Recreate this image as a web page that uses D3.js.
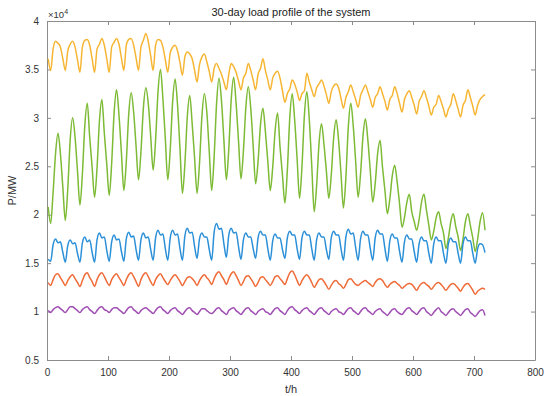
<!DOCTYPE html>
<html>
<head>
<meta charset="utf-8">
<script src="https://cdn.jsdelivr.net/npm/d3@7"></script>
<style>
  body { margin: 0; background: #fff; }
  svg { display: block; font-family: "Liberation Sans", Arial, sans-serif; }
</style>
</head>
<body>
<figure id="load" style="margin:0"></figure>
<script>
// loads in units of 10^4 MW, sampled every 4 h (t = 2, 6, 10, ... 718)
// one row per day
const yellowLoad = [
  3.61,3.49,3.71,3.79,3.77,3.73, 3.61,3.49,3.69,3.76,3.79,3.73, 3.60,3.47,3.73,3.80,3.81,3.75,
  3.61,3.47,3.71,3.76,3.82,3.75, 3.61,3.47,3.73,3.78,3.82,3.76, 3.62,3.49,3.75,3.81,3.82,3.75,
  3.62,3.49,3.73,3.80,3.87,3.79, 3.64,3.49,3.75,3.81,3.80,3.73, 3.60,3.47,3.67,3.73,3.75,3.69,
  3.57,3.44,3.63,3.68,3.66,3.61, 3.49,3.37,3.55,3.63,3.66,3.58, 3.48,3.37,3.51,3.56,3.51,3.45,
  3.37,3.29,3.45,3.56,3.53,3.47, 3.38,3.29,3.41,3.46,3.56,3.49, 3.39,3.29,3.45,3.51,3.61,3.49,
  3.39,3.29,3.41,3.46,3.48,3.41, 3.28,3.16,3.25,3.30,3.39,3.35, 3.27,3.18,3.25,3.28,3.46,3.37,
  3.29,3.22,3.31,3.35,3.39,3.33, 3.24,3.15,3.27,3.33,3.35,3.31, 3.20,3.10,3.21,3.27,3.34,3.27,
  3.19,3.11,3.23,3.29,3.34,3.27, 3.19,3.11,3.21,3.25,3.32,3.25, 3.17,3.08,3.19,3.23,3.32,3.25,
  3.15,3.06,3.19,3.25,3.28,3.21, 3.13,3.04,3.17,3.22,3.28,3.21, 3.12,3.03,3.11,3.14,3.23,3.17,
  3.09,3.01,3.09,3.14,3.25,3.18, 3.09,3.01,3.13,3.18,3.29,3.21, 3.12,3.03,3.13,3.19,3.22,3.24
];
const greenLoad = [
  2.08,1.91,2.23,2.63,2.84,2.63, 2.28,1.94,2.26,2.77,3.00,2.80, 2.45,2.10,2.42,2.92,3.15,2.80,
  2.49,2.18,2.48,2.97,3.19,2.84, 2.52,2.20,2.53,3.05,3.29,3.03, 2.64,2.25,2.55,3.04,3.26,3.06,
  2.71,2.36,2.65,3.10,3.31,3.15, 2.81,2.46,2.77,3.27,3.50,3.20, 2.78,2.36,2.67,3.17,3.40,3.13,
  2.68,2.22,2.52,3.01,3.23,2.94, 2.58,2.22,2.53,3.02,3.25,3.06, 2.65,2.25,2.60,3.15,3.41,3.18,
  2.77,2.36,2.68,3.19,3.42,3.15, 2.76,2.37,2.66,3.11,3.32,3.10, 2.71,2.32,2.55,2.93,3.10,2.86,
  2.55,2.25,2.49,2.87,3.05,2.70, 2.41,2.12,2.46,3.00,3.25,2.98, 2.58,2.17,2.50,3.03,3.27,2.98,
  2.51,2.03,2.30,2.74,2.94,2.73, 2.45,2.17,2.41,2.80,2.98,2.77, 2.42,2.07,2.39,2.91,3.15,2.92,
  2.55,2.18,2.42,2.81,2.99,2.77, 2.45,2.13,2.32,2.63,2.77,2.49, 2.25,2.01,2.16,2.40,2.51,2.34,
  2.11,1.87,1.97,2.13,2.21,2.03, 1.93,1.84,1.95,2.13,2.21,2.05, 1.89,1.74,1.83,1.97,2.03,1.91,
  1.81,1.65,1.76,1.93,2.01,1.88, 1.77,1.63,1.75,1.93,2.01,1.89, 1.76,1.62,1.75,1.93,2.02,1.84
];
const blueLoad = [
  1.54,1.52,1.69,1.75,1.71,1.72, 1.61,1.51,1.68,1.74,1.70,1.71, 1.60,1.51,1.71,1.77,1.72,1.74,
  1.61,1.51,1.74,1.81,1.76,1.77, 1.63,1.52,1.72,1.79,1.74,1.75, 1.62,1.52,1.75,1.82,1.77,1.78,
  1.64,1.53,1.74,1.81,1.76,1.77, 1.64,1.53,1.76,1.84,1.79,1.80, 1.65,1.53,1.76,1.84,1.79,1.80,
  1.65,1.53,1.78,1.86,1.81,1.82, 1.67,1.55,1.75,1.81,1.77,1.77, 1.64,1.53,1.82,1.91,1.85,1.86,
  1.70,1.56,1.79,1.86,1.81,1.82, 1.67,1.54,1.74,1.81,1.77,1.77, 1.65,1.55,1.76,1.83,1.79,1.79,
  1.65,1.53,1.73,1.80,1.76,1.76, 1.64,1.55,1.76,1.83,1.79,1.79, 1.65,1.54,1.76,1.83,1.79,1.79,
  1.65,1.53,1.74,1.81,1.77,1.77, 1.64,1.54,1.76,1.83,1.79,1.79, 1.65,1.53,1.77,1.85,1.80,1.81,
  1.66,1.53,1.75,1.83,1.79,1.79, 1.65,1.53,1.76,1.84,1.80,1.80, 1.65,1.52,1.73,1.80,1.76,1.76,
  1.62,1.51,1.72,1.79,1.75,1.75, 1.62,1.51,1.70,1.77,1.73,1.73, 1.60,1.50,1.70,1.77,1.73,1.73,
  1.60,1.50,1.70,1.76,1.72,1.72, 1.60,1.50,1.70,1.77,1.73,1.73, 1.60,1.50,1.65,1.70,1.69,1.61
];
const orangeLoad = [
  1.30,1.27,1.33,1.38,1.39,1.35, 1.31,1.27,1.32,1.36,1.38,1.34, 1.30,1.26,1.32,1.38,1.40,1.35,
  1.31,1.26,1.33,1.38,1.40,1.36, 1.31,1.27,1.33,1.37,1.39,1.35, 1.31,1.27,1.33,1.38,1.40,1.36,
  1.31,1.26,1.33,1.38,1.40,1.36, 1.31,1.27,1.33,1.37,1.39,1.35, 1.31,1.28,1.32,1.36,1.38,1.35,
  1.31,1.27,1.31,1.35,1.36,1.34, 1.31,1.27,1.32,1.36,1.38,1.35, 1.32,1.28,1.34,1.39,1.41,1.37,
  1.33,1.28,1.34,1.39,1.41,1.37, 1.32,1.27,1.31,1.36,1.37,1.34, 1.30,1.26,1.30,1.35,1.36,1.33,
  1.30,1.27,1.31,1.36,1.37,1.34, 1.31,1.28,1.34,1.40,1.42,1.38, 1.32,1.27,1.32,1.36,1.38,1.35,
  1.30,1.25,1.29,1.33,1.34,1.31, 1.27,1.23,1.27,1.31,1.32,1.29, 1.27,1.24,1.28,1.33,1.34,1.31,
  1.28,1.27,1.29,1.31,1.32,1.30, 1.28,1.26,1.30,1.33,1.34,1.32, 1.28,1.25,1.28,1.30,1.31,1.29,
  1.27,1.24,1.26,1.28,1.29,1.28, 1.25,1.22,1.26,1.29,1.30,1.28, 1.26,1.23,1.26,1.29,1.30,1.28,
  1.25,1.22,1.25,1.28,1.29,1.27, 1.24,1.21,1.25,1.28,1.29,1.26, 1.22,1.18,1.21,1.23,1.24,1.23
];
const purpleLoad = [
  1.01,0.99,1.02,1.04,1.05,1.03, 1.01,0.99,1.02,1.05,1.05,1.03, 1.01,0.99,1.02,1.04,1.05,1.02,
  1.00,0.98,1.01,1.04,1.05,1.02, 1.01,0.99,1.02,1.04,1.04,1.02, 1.00,0.98,1.01,1.04,1.05,1.02,
  1.00,0.98,1.01,1.03,1.04,1.02, 1.00,0.98,1.01,1.04,1.05,1.02, 1.00,0.98,1.01,1.03,1.04,1.01,
  0.99,0.97,1.00,1.03,1.04,1.01, 0.99,0.97,1.00,1.03,1.03,1.01, 0.99,0.98,1.00,1.03,1.04,1.01,
  0.99,0.97,1.01,1.03,1.04,1.01, 0.99,0.97,1.00,1.03,1.04,1.01, 0.99,0.97,1.00,1.02,1.03,1.00,
  0.99,0.97,1.00,1.03,1.04,1.01, 0.99,0.97,1.01,1.04,1.05,1.02, 1.00,0.98,1.01,1.03,1.04,1.01,
  0.99,0.97,1.00,1.03,1.04,1.01, 0.99,0.97,1.00,1.02,1.03,1.00, 0.99,0.97,1.00,1.03,1.04,1.01,
  0.99,0.97,1.00,1.03,1.04,1.01, 0.99,0.97,1.00,1.02,1.03,1.00, 0.98,0.96,0.99,1.02,1.03,1.00,
  0.98,0.97,1.00,1.03,1.04,1.01, 0.99,0.97,1.00,1.03,1.04,1.00, 0.98,0.96,0.99,1.02,1.04,1.00,
  0.98,0.96,0.99,1.02,1.03,1.00, 0.98,0.96,0.99,1.02,1.03,0.99, 0.97,0.95,0.98,1.01,1.02,0.96
];
const hours = d3.range(2, 720, 4);
const xTicks = [0, 100, 200, 300, 400, 500, 600, 700, 800];
const yTicks = [0.5, 1, 1.5, 2, 2.5, 3, 3.5, 4];

const series = [
  { name: "yellow", values: yellowLoad, color: "#f6b634" },
  { name: "green", values: greenLoad, color: "#7dba35" },
  { name: "blue", values: blueLoad, color: "#2b90d8" },
  { name: "orange", values: orangeLoad, color: "#ef6b38" },
  { name: "purple", values: purpleLoad, color: "#a04fb3" }
];

const width = 544, height = 396;
const margin = { top: 21, right: 9, bottom: 36, left: 47 };
const w = width - margin.left - margin.right;
const h = height - margin.top - margin.bottom;

const svg = d3.select("figure#load")
  .append("svg")
  .attr("width", width)
  .attr("height", height);

const g = svg.append("g")
  .attr("transform", "translate(" + margin.left + "," + margin.top + ")");

const x = d3.scaleLinear().domain([0, 800]).range([0, w]);
const y = d3.scaleLinear().domain([0.5, 4]).range([h, 0]);

const axisColor = "#8c8c8c";
const textColor = "#333";

// axes (ticks pointing inward, box all round like matlab)
const styleAxis = sel => {
  sel.select(".domain").attr("stroke", axisColor);
  sel.selectAll(".tick line").attr("stroke", axisColor);
  sel.selectAll(".tick text").attr("fill", textColor).style("font-size", "10px");
};

g.append("g")
  .attr("transform", "translate(0," + h + ")")
  .call(d3.axisBottom(x).tickValues(xTicks).tickSize(-4).tickPadding(9).tickSizeOuter(0))
  .call(styleAxis);

g.append("g")
  .call(d3.axisTop(x).tickValues(xTicks).tickSize(-4).tickFormat("").tickSizeOuter(0))
  .call(styleAxis);

g.append("g")
  .call(d3.axisLeft(y).tickValues(yTicks).tickSize(-4).tickPadding(8).tickSizeOuter(0).tickFormat(d3.format("")))
  .call(styleAxis);

g.append("g")
  .attr("transform", "translate(" + w + ",0)")
  .call(d3.axisRight(y).tickValues(yTicks).tickSize(-4).tickFormat("").tickSizeOuter(0))
  .call(styleAxis);

// lines
const line = d3.line()
  .x((d, i) => x(hours[i]))
  .y(d => y(d))
  .curve(d3.curveMonotoneX);

g.selectAll(".load")
  .data(series)
  .enter()
  .append("path")
  .attr("class", "load")
  .attr("fill", "none")
  .attr("stroke", d => d.color)
  .attr("stroke-width", 1.5)
  .attr("stroke-linejoin", "round")
  .attr("d", d => line(d.values));

// texts
svg.append("text")
  .attr("x", margin.left + w / 2)
  .attr("y", 16)
  .attr("text-anchor", "middle")
  .attr("fill", "#222")
  .style("font-size", "11px")
  .text("30-day load profile of the system");

const exp = svg.append("text")
  .attr("x", margin.left + 1)
  .attr("y", 18)
  .attr("fill", textColor)
  .style("font-size", "9.5px");
exp.append("tspan").text("×10");
exp.append("tspan").attr("dy", -4).style("font-size", "7px").text("4");

svg.append("text")
  .attr("x", margin.left + w / 2)
  .attr("y", 393)
  .attr("text-anchor", "middle")
  .attr("fill", textColor)
  .style("font-size", "11px")
  .text("t/h");

svg.append("text")
  .attr("transform", "translate(16," + (margin.top + h / 2) + ") rotate(-90)")
  .attr("text-anchor", "middle")
  .attr("fill", textColor)
  .style("font-size", "11px")
  .text("P/MW");
</script>
</body>
</html>
